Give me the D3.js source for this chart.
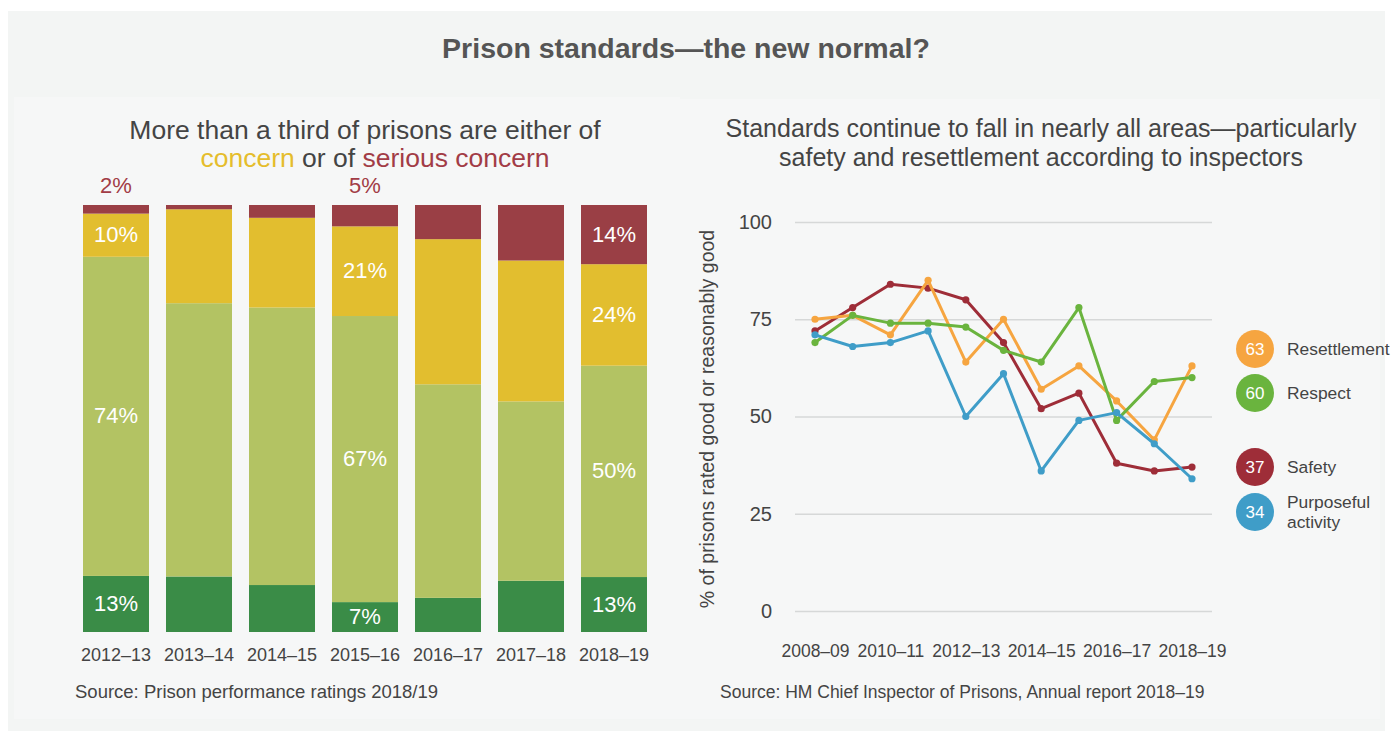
<!DOCTYPE html>
<html>
<head>
<meta charset="utf-8">
<script src="https://cdn.jsdelivr.net/npm/d3@7"></script>
<style>
  html, body { margin: 0; padding: 0; background: #ffffff; }
  svg { display: block; font-family: "Liberation Sans", Arial, sans-serif; }
</style>
</head>
<body>
<svg id="chart" width="1394" height="731"></svg>
<script>
// ---- Inspection ratings (share of prisons per rating, by year) ----
const ratingYears = ["2012–13", "2013–14", "2014–15", "2015–16", "2016–17", "2017–18", "2018–19"];
const ratingKeys = ["good", "reasonablyGood", "concern", "seriousConcern"];
const good           = [13, 13, 11, 7, 8, 12, 13];
const reasonablyGood = [74, 64, 65, 67, 50, 42, 50];
const concern        = [10, 22, 21, 21, 34, 33, 24];
const seriousConcern = [2, 1, 3, 5, 8, 13, 14];
// Only some segments carry a value label
const labelledSegments = [
  ["2012–13", "seriousConcern"], ["2012–13", "concern"], ["2012–13", "reasonablyGood"], ["2012–13", "good"],
  ["2015–16", "seriousConcern"], ["2015–16", "concern"], ["2015–16", "reasonablyGood"], ["2015–16", "good"],
  ["2018–19", "seriousConcern"], ["2018–19", "concern"], ["2018–19", "reasonablyGood"], ["2018–19", "good"]
];

// ---- Healthy prison test outcomes (% rated good or reasonably good) ----
const testYears = ["2008–09", "2009–10", "2010–11", "2011–12", "2012–13", "2013–14",
                   "2014–15", "2015–16", "2016–17", "2017–18", "2018–19"];
const testTicks = ["2008–09", "2010–11", "2012–13", "2014–15", "2016–17", "2018–19"];
const resettlement = [75, 76, 71, 85, 64, 75, 57, 63, 54, 44, 63];
const respect      = [69, 76, 74, 74, 73, 67, 64, 78, 49, 59, 60];
const safety       = [72, 78, 84, 83, 80, 69, 52, 56, 38, 36, 37];
const purposeful   = [71, 68, 69, 72, 50, 61, 36, 49, 51, 43, 34];
const yTicks = [0, 25, 50, 75, 100];

const svg = d3.select("#chart");
const textCol = "#444444";
const fontFamily = "Liberation Sans, Arial, sans-serif";

// Backgrounds
svg.append("rect").attr("x", 8).attr("y", 11).attr("width", 1377).attr("height", 720).attr("fill", "#f3f5f4");
svg.append("rect").attr("x", 14).attr("y", 97).attr("width", 666).attr("height", 622).attr("fill", "#f6f7f7");
svg.append("rect").attr("x", 680).attr("y", 99).attr("width", 700).attr("height", 620).attr("fill", "#f6f7f7");

// Main title
svg.append("text").attr("x", 686).attr("y", 58).attr("text-anchor", "middle")
  .attr("font-size", 28.5).attr("font-weight", "bold").attr("fill", "#555555")
  .text("Prison standards—the new normal?");

// ================= Left: stacked bars =================
const ratingColor = {
  good: "#3a8c47", reasonablyGood: "#b3c363", concern: "#e2be2f", seriousConcern: "#9a3f45"
};
const ratingRows = ratingYears.map((y, i) => ({
  year: y, good: good[i], reasonablyGood: reasonablyGood[i],
  concern: concern[i], seriousConcern: seriousConcern[i]
}));
const stack = d3.stack().keys(ratingKeys).offset(d3.stackOffsetExpand);
const series = stack(ratingRows);

const xb = d3.scaleBand().domain(ratingYears).range([74.5, 655.5]).paddingInner(0.205).paddingOuter(0.1025);
const yb = d3.scaleLinear().domain([0, 1]).range([632, 205]);

const left = svg.append("g");
left.append("text").attr("x", 365).attr("y", 139).attr("text-anchor", "middle")
  .attr("font-size", 26.5).attr("fill", textCol)
  .text("More than a third of prisons are either of");
const sub2 = left.append("text").attr("x", 375).attr("y", 167).attr("text-anchor", "middle")
  .attr("font-size", 26.5).attr("fill", textCol);
sub2.append("tspan").attr("fill", "#e5bd2c").text("concern");
sub2.append("tspan").text(" or of ");
sub2.append("tspan").attr("fill", "#a23c46").text("serious concern");

left.selectAll("g.layer").data(series).join("g")
  .attr("class", "layer")
  .attr("fill", d => ratingColor[d.key])
  .selectAll("rect").data(d => d).join("rect")
  .attr("x", d => xb(d.data.year))
  .attr("width", xb.bandwidth())
  .attr("y", d => yb(d[1]))
  .attr("height", d => yb(d[0]) - yb(d[1]));

const segLabels = labelledSegments.map(([year, key]) => {
  const s = series.find(l => l.key === key);
  const d = s.find(p => p.data.year === year);
  const val = d.data[key];
  const h = yb(d[0]) - yb(d[1]);
  const outside = h < 26;
  return {
    x: xb(year) + xb.bandwidth() / 2,
    y: outside ? yb(1) - 12 : (yb(d[0]) + yb(d[1])) / 2 + 7,
    color: outside ? "#a23c46" : "#ffffff",
    text: val + "%"
  };
});
left.selectAll("text.seg").data(segLabels).join("text")
  .attr("class", "seg")
  .attr("x", d => d.x).attr("y", d => d.y)
  .attr("text-anchor", "middle").attr("font-size", 22)
  .attr("fill", d => d.color).text(d => d.text);

left.selectAll("text.xl").data(ratingYears).join("text")
  .attr("class", "xl")
  .attr("x", d => xb(d) + xb.bandwidth() / 2).attr("y", 661)
  .attr("text-anchor", "middle").attr("font-size", 18).attr("fill", textCol)
  .text(d => d);

left.append("text").attr("x", 75).attr("y", 698).attr("font-size", 18.5).attr("fill", textCol)
  .text("Source: Prison performance ratings 2018/19");

// ================= Right: line chart =================
const right = svg.append("g");
right.append("text").attr("x", 1041).attr("y", 137).attr("text-anchor", "middle")
  .attr("font-size", 25).attr("fill", textCol)
  .text("Standards continue to fall in nearly all areas—particularly");
right.append("text").attr("x", 1041).attr("y", 166).attr("text-anchor", "middle")
  .attr("font-size", 25).attr("fill", textCol)
  .text("safety and resettlement according to inspectors");

const xl = d3.scalePoint().domain(testYears).range([815, 1192]);
const yl = d3.scaleLinear().domain([0, 100]).range([611, 222]);

const yAxis = d3.axisLeft(yl).tickValues(yTicks).tickSize(-(1212 - 795)).tickPadding(23);
const gy = right.append("g").attr("transform", "translate(795,0)").call(yAxis);
gy.select(".domain").remove();
gy.selectAll(".tick line").attr("stroke", "#d6d8d8").attr("stroke-width", 1.6);
gy.selectAll(".tick text").attr("font-size", 20).attr("fill", textCol)
  .attr("font-family", fontFamily);

const xAxis = d3.axisBottom(xl).tickValues(testTicks).tickSize(0).tickPadding(0);
const gx = right.append("g").attr("transform", "translate(0,645)").call(xAxis);
gx.select(".domain").remove();
gx.selectAll(".tick text").attr("font-size", 17.5).attr("fill", textCol)
  .attr("font-family", fontFamily);

right.append("text")
  .attr("transform", "translate(714,419) rotate(-90)")
  .attr("text-anchor", "middle").attr("font-size", 19.5).attr("fill", textCol)
  .text("% of prisons rated good or reasonably good");

const lineSeries = [
  { name: "Safety", values: safety, color: "#9e2d38" },
  { name: "Resettlement", values: resettlement, color: "#f6a540" },
  { name: "Respect", values: respect, color: "#6ab43e" },
  { name: "Purposeful activity", values: purposeful, color: "#3f9dc8" }
];
const line = d3.line().x((v, i) => xl(testYears[i])).y(v => yl(v));
const lg = right.selectAll("g.series").data(lineSeries).join("g").attr("class", "series");
lg.append("path")
  .attr("d", d => line(d.values))
  .attr("fill", "none").attr("stroke", d => d.color)
  .attr("stroke-width", 3).attr("stroke-linejoin", "round");
lg.selectAll("circle").data(d => d.values.map(v => ({ v, c: d.color }))).join("circle")
  .attr("cx", (d, i) => xl(testYears[i])).attr("cy", d => yl(d.v))
  .attr("r", 3.6).attr("fill", d => d.c);

// Legend: latest value in a coloured disc
const legendItems = [
  { lines: ["Resettlement"], values: resettlement, color: "#f6a540", cy: 349 },
  { lines: ["Respect"], values: respect, color: "#6ab43e", cy: 393 },
  { lines: ["Safety"], values: safety, color: "#9e2d38", cy: 467 },
  { lines: ["Purposeful", "activity"], values: purposeful, color: "#3f9dc8", cy: 512 }
];
const leg = right.selectAll("g.leg").data(legendItems).join("g").attr("class", "leg");
leg.append("circle").attr("cx", 1255).attr("cy", d => d.cy).attr("r", 19).attr("fill", d => d.color);
leg.append("text").attr("x", 1255).attr("y", d => d.cy + 6).attr("text-anchor", "middle")
  .attr("font-size", 17).attr("fill", "#ffffff")
  .text(d => d.values[d.values.length - 1]);
leg.each(function (d) {
  const g = d3.select(this);
  const n = d.lines.length;
  d.lines.forEach((t, i) => {
    g.append("text").attr("x", 1287).attr("y", d.cy + 6 + (i - (n - 1) / 2) * 20)
      .attr("font-size", 17.4).attr("fill", textCol).text(t);
  });
});

right.append("text").attr("x", 720).attr("y", 698).attr("font-size", 17.5).attr("fill", textCol)
  .text("Source: HM Chief Inspector of Prisons, Annual report 2018–19");
</script>
</body>
</html>
